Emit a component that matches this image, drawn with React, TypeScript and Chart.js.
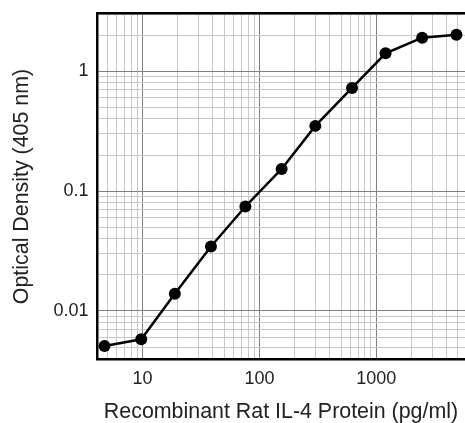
import { useEffect, useRef } from 'react';
import { Chart, registerables } from 'chart.js';

Chart.register(...registerables);

// Data
const concentrations = [4.73, 9.75, 18.9, 38.5, 75.9, 155, 301, 620, 1200, 2470, 4850];
const opticalDensity = [0.0051, 0.0058, 0.0139, 0.0345, 0.0744, 0.153, 0.35, 0.726, 1.41, 1.905, 2.02];
const xTickLabels = ['10', '100', '1000'];
const yTickLabels = ['0.01', '0.1', '1'];
const xTitle = 'Recombinant Rat IL-4 Protein (pg/ml)';
const yTitle = 'Optical Density (405 nm)';

const X_MIN = 4.08;
const X_MAX = 5740;
const Y_MIN = 0.00395;
const Y_MAX = 3.02;

function logGridValues(min: number, max: number): number[] {
  const out: number[] = [];
  const e0 = Math.floor(Math.log10(min));
  const e1 = Math.ceil(Math.log10(max));
  for (let e = e0; e <= e1; e++) {
    for (let m = 1; m <= 9; m++) {
      const v = parseFloat((m * Math.pow(10, e)).toPrecision(6));
      if (v > min * 1.0001 && v < max * 0.9999) out.push(v);
    }
  }
  return out;
}

const isMajor = (v: number) => Math.abs(Math.log10(v) - Math.round(Math.log10(v))) < 1e-6;
const labelFor = (labels: string[], v: number) =>
  labels.find((l) => Math.abs(Number(l) - v) / v < 1e-6) ?? '';

const FONT = "'Liberation Sans', Arial, sans-serif";
const MAJOR_GRID = '#808080';
const MINOR_GRID = '#c8c8c8';

export default function App() {
  const ref = useRef<HTMLCanvasElement | null>(null);

  useEffect(() => {
    if (!ref.current) return;
    const xGrid = logGridValues(X_MIN, X_MAX);
    const yGrid = logGridValues(Y_MIN, Y_MAX);
    const chart = new Chart(ref.current, {
      type: 'line',
      data: {
        datasets: [
          {
            data: concentrations.map((x, i) => ({ x, y: opticalDensity[i] })),
            borderColor: '#000',
            backgroundColor: '#000',
            borderWidth: 2.5,
            pointRadius: 6,
            pointBorderWidth: 0,
            pointBackgroundColor: '#000',
            tension: 0,
            clip: false,
            xAxisID: 'x',
            yAxisID: 'y',
          },
        ],
      },
      options: {
        animation: false,
        responsive: false,
        events: [],
        layout: { autoPadding: false, padding: { top: 13.7, left: 0, right: 0, bottom: 0 } },
        plugins: { legend: { display: false }, tooltip: { enabled: false } },
        scales: {
          x: {
            type: 'logarithmic',
            position: 'bottom',
            min: X_MIN,
            max: X_MAX,
            afterBuildTicks: (s: any) => {
              s.ticks = xGrid.map((v) => ({ value: v }));
            },
            afterFit: (s: any) => {
              s.height = 423 - 359.3;
              s.paddingLeft = 0;
              s.paddingRight = 0;
              s.paddingTop = 0;
              s.paddingBottom = 0;
            },
            grid: {
              drawTicks: false,
              lineWidth: 1,
              color: (c: any) => (c.tick && isMajor(c.tick.value) ? MAJOR_GRID : MINOR_GRID),
            },
            border: { display: true, color: '#000', width: 2.5 },
            ticks: {
              autoSkip: false,
              maxRotation: 0,
              padding: 9,
              color: '#222',
              font: { family: FONT, size: 18 },
              callback: (v: any) => labelFor(xTickLabels, Number(v)),
            },
            title: {
              display: true,
              text: xTitle,
              color: '#222',
              font: { family: FONT, size: 21.4, lineHeight: 1 },
              padding: { top: 0, bottom: 0 },
            },
          },
          x2: {
            type: 'linear',
            position: 'top',
            display: true,
            afterFit: (s: any) => {
              s.height = 0;
              s.paddingLeft = 0;
              s.paddingRight = 0;
            },
            grid: { drawTicks: false, color: 'transparent' },
            border: { display: true, color: '#000', width: 2.5 },
            ticks: { display: false },
          },
          y: {
            type: 'logarithmic',
            position: 'left',
            min: Y_MIN,
            max: Y_MAX,
            afterBuildTicks: (s: any) => {
              s.ticks = yGrid.map((v) => ({ value: v }));
            },
            afterFit: (s: any) => {
              s.width = 97;
              s.paddingTop = 0;
              s.paddingBottom = 0;
            },
            grid: {
              drawTicks: false,
              lineWidth: 1,
              color: (c: any) => (c.tick && isMajor(c.tick.value) ? MAJOR_GRID : MINOR_GRID),
            },
            border: { display: true, color: '#000', width: 2.5 },
            ticks: {
              autoSkip: false,
              padding: 8.5,
              color: '#222',
              font: { family: FONT, size: 18 },
              callback: (v: any) => labelFor(yTickLabels, Number(v)),
            },
            title: {
              display: true,
              text: yTitle,
              color: '#222',
              font: { family: FONT, size: 21.4, lineHeight: 1 },
              padding: { top: 11.5, bottom: 0 },
            },
          },
        },
      },
    });
    return () => chart.destroy();
  }, []);

  return (
    <div style={{ position: 'absolute', left: 0, top: 0, width: 465, height: 423, background: '#fff' }}>
      <canvas ref={ref} width={465} height={423} style={{ display: 'block' }} />
    </div>
  );
}
